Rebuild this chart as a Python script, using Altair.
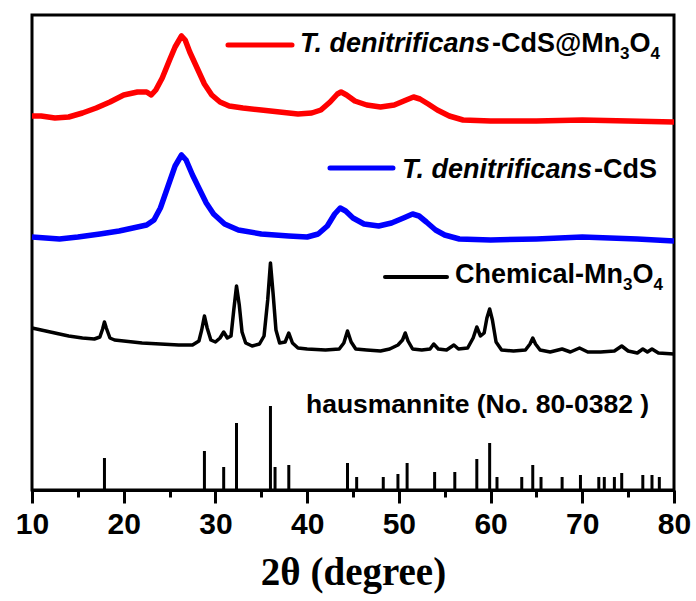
import altair as alt
import pandas as pd

# ---- data (2theta in degrees, intensity in a.u.) ----
red_x = [10.0, 11.0, 12.5, 14.0, 15.5, 17.0, 18.5, 20.0, 21.5, 22.5, 23.0, 23.5, 24.2, 25.0, 25.6,
         26.3, 26.7, 27.2, 28.0, 28.8, 29.6, 30.5, 31.5, 33.0, 35.0, 37.0, 39.0, 40.5, 41.5, 42.5,
         43.3, 43.7, 44.3, 45.2, 46.5, 48.0, 49.5, 50.8, 51.6, 52.3, 53.2, 54.2, 55.5, 57.0, 60.0,
         65.0, 70.0, 75.0, 80.0]
red_y = [374, 374, 372, 373, 377, 382, 388, 395, 398, 398, 395, 400, 412, 430, 443,
         454, 450, 438, 422, 406, 395, 388, 384, 382, 380, 378, 376, 377, 380, 388,
         396, 398, 395, 389, 385, 383, 385, 390, 393, 391, 386, 380, 374, 370, 369,
         369, 370, 369, 368]

blue_x = [10.0, 11.5, 13.0, 15.0, 17.4, 19.5, 21.0, 22.5, 23.3, 24.0, 24.8, 25.6, 26.3, 26.8, 27.5,
          28.3, 29.0, 29.8, 31.0, 32.5, 35.0, 38.0, 40.0, 41.2, 42.2, 43.0, 43.6, 44.2, 45.0, 46.2,
          47.8, 49.2, 50.5, 51.5, 52.2, 53.0, 54.0, 55.0, 56.6, 60.0, 65.0, 70.0, 73.0, 76.0, 80.0]
blue_y = [253, 252, 251, 253, 256, 259, 262, 265, 270, 282, 303, 324, 335, 330, 315,
          300, 287, 276, 266, 260, 256, 254, 253, 256, 264, 276, 282, 279, 272, 266,
          264, 267, 272, 276, 274, 268, 260, 255, 251, 250, 251, 253, 252, 251, 249]

black_x = [10.0, 11.0, 12.5, 14.0, 15.5, 16.8, 17.4, 17.7, 17.9, 18.1, 18.5, 19.0, 20.0, 22.0, 24.0,
           26.0, 27.5, 28.2, 28.5, 28.8, 29.1, 29.5, 30.0, 30.5, 30.9, 31.3, 31.7, 32.0, 32.3, 32.6,
           32.9, 33.3, 34.0, 34.8, 35.3, 35.7, 36.0, 36.3, 36.6, 37.0, 37.6, 38.0, 38.4, 39.0, 40.0,
           42.0, 43.5, 44.0, 44.4, 44.8, 45.3, 46.5, 48.0, 49.0, 49.9, 50.4, 50.7, 51.0, 51.5, 52.5,
           53.4, 53.8, 54.3, 55.2, 56.0, 56.5, 57.5, 58.1, 58.5, 58.9, 59.3, 59.6, 59.9, 60.2, 60.6,
           61.2, 62.5, 63.8, 64.3, 64.6, 64.9, 65.4, 66.5, 67.8, 68.7, 69.7, 70.6, 72.0, 73.5, 74.3,
           75.0, 76.0, 76.6, 77.1, 77.6, 78.3, 80.0]
black_y = [162, 160, 157, 154, 152, 151, 153, 161, 168, 162, 152, 150, 149, 147, 146,
           145, 145, 149, 160, 174, 162, 150, 148, 152, 158, 152, 154, 180, 204, 185,
           158, 147, 144, 146, 154, 190, 227, 195, 160, 147, 148, 157, 147, 142, 141,
           140, 141, 147, 159, 148, 141, 140, 139, 141, 145, 150, 157, 149, 141, 140,
           141, 146, 141, 140, 145, 141, 142, 152, 163, 154, 157, 172, 181, 170, 148,
           140, 139, 140, 146, 152, 146, 140, 138, 141, 138, 142, 138, 138, 139, 144,
           139, 137, 141, 138, 141, 137, 136]

ref_pos = [17.9, 28.8, 30.9, 32.3, 36.0, 36.5, 38.0, 44.4, 45.4, 48.3, 49.9, 50.9, 53.9, 56.1, 58.5,
           59.9, 60.7, 63.4, 64.6, 65.5, 67.8, 69.8, 71.8, 72.4, 73.5, 74.3, 76.6, 77.6, 78.4]
ref_int = [32, 39, 23, 67, 84, 23, 25, 27, 13, 13, 16, 27, 18, 18, 31,
           47, 13, 13, 25, 13, 13, 15, 13, 13, 13, 17, 15, 15, 13]

x_ticks = list(range(10, 81, 5))

# ---- chart ----
xs = alt.Scale(domain=[10, 80], nice=False, zero=False)
ys = alt.Scale(domain=[0, 475], nice=False, zero=False)

SANS = "Liberation Sans, Arial, sans-serif"

def trace(xv, yv, color, width):
    df = pd.DataFrame({"t": xv, "i": yv})
    return alt.Chart(df).mark_line(color=color, strokeWidth=width, strokeJoin="round").encode(
        x=alt.X("t:Q", scale=xs,
                axis=alt.Axis(values=x_ticks, title="2θ (degree)",
                              labelExpr="datum.value % 10 === 0 ? datum.label : ''",
                              tickSize={"condition": {"test": "datum.value % 10 === 0", "value": 13}, "value": 7},
                              tickWidth=3, tickColor="black", domainWidth=3, domainColor="black",
                              labelFont="Liberation Sans Narrow, Arial Narrow, Liberation Sans",
                              labelFontWeight="bold",
                              labelFontSize=30, labelColor="black", labelPadding=6, labelFlush=False,
                              titleFont="Liberation Serif", titleFontWeight="bold", titleFontSize=39,
                              titleColor="black", titlePadding=14, grid=False)),
        y=alt.Y("i:Q", scale=ys, axis=None),
    )

red = trace(red_x, red_y, "#ff0000", 5.5)
blue = trace(blue_x, blue_y, "#0000ff", 5.5)
black = trace(black_x, black_y, "black", 3.5)

ref_df = pd.DataFrame({"t": ref_pos, "i": ref_int})
sticks = alt.Chart(ref_df).mark_rule(color="black", strokeWidth=3).encode(
    x=alt.X("t:Q", scale=xs), y=alt.Y("i:Q", scale=ys), y2=alt.datum(0))

def seg(x1, x2, yv, color, w):
    return alt.Chart().mark_rule(color=color, strokeWidth=w, strokeCap="round").encode(
        x=alt.datum(x1, scale=xs), x2=alt.datum(x2), y=alt.datum(yv, scale=ys))

def txt(s, xv, yv, size=27, style="normal"):
    return alt.Chart().mark_text(text=s, align="left", baseline="alphabetic", font=SANS,
                                 fontSize=size, fontWeight="bold", fontStyle=style,
                                 color="black").encode(
        x=alt.datum(xv, scale=xs), y=alt.datum(yv, scale=ys))

annotations = [
    seg(31.37, 38.35, 445, "#ff0000", 5),
    txt("T. denitrificans", 39.22, 438, style="italic"),
    txt("-CdS@Mn", 60.16, 438),
    txt("3", 74.11, 431, size=17),
    txt("O", 75.15, 438),
    txt("4", 77.44, 431, size=17),
    seg(42.49, 49.36, 322, "#0000ff", 5),
    txt("T. denitrificans", 50.34, 312, style="italic"),
    txt("-CdS", 71.28, 312),
    seg(48.49, 55.25, 213, "black", 4),
    txt("Chemical-Mn", 56.12, 207),
    txt("3", 74.44, 200, size=17),
    txt("O", 75.47, 207),
    txt("4", 77.76, 200, size=17),
    txt("hausmannite (No. 80-0382 )", 39.87, 77, size=26.5),
]

chart = alt.layer(red, blue, black, sticks, *annotations).properties(
    width=642, height=475,
    autosize=alt.AutoSizeParams(type="none"),
    padding={"left": 32, "top": 15, "right": 22, "bottom": 111},
    background="white",
).configure_view(stroke="black", strokeWidth=3)

chart.save("out.html", embed_options={"renderer": "svg", "actions": False})
